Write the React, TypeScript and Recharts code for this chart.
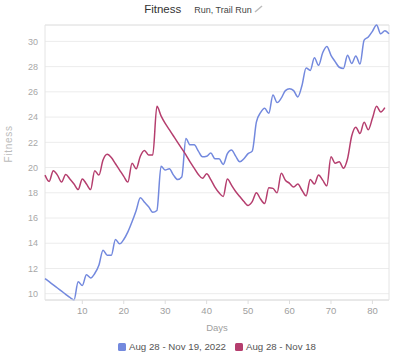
import { CartesianGrid, Line, LineChart, ReferenceArea, XAxis, YAxis } from "recharts";

const days = Array.from({ length: 84 }, (_, i) => i + 1);

const currentFitness = [
  11.2, 10.95, 10.7, 10.45, 10.2, 9.95, 9.7, 9.5, 10.95, 10.65,
  11.5, 11.25, 11.6, 12.25, 13.45, 13.05, 13.05, 14.3, 13.95, 14.3,
  14.9, 15.7, 16.6, 17.6, 17.25, 16.9, 16.45, 16.6, 20.1, 19.8,
  19.9, 19.4, 19.05, 19.25, 22.3, 21.8, 21.8, 21.3, 20.85, 20.9,
  21.15, 20.7, 20.7, 20.25, 21.1, 21.4, 20.9, 20.45, 20.7, 21.1,
  21.3, 23.6, 24.35, 24.7, 24.3, 25.75, 25.15, 25.5, 26.1, 26.25,
  26.1, 25.6, 26.5, 27.9, 27.7, 28.7, 28.1, 29.1, 29.6, 28.9,
  28.4, 27.95, 27.85, 28.9, 28.25, 28.85, 28.2, 30.1, 30.35, 30.8,
  31.3, 30.6, 30.85, 30.6,
];

const previousFitness = [
  19.4, 18.9, 19.75, 19.4, 18.85, 19.45, 19.1, 18.7, 18.25, 19.1,
  18.7, 18.25, 19.75, 19.4, 20.6, 21.05, 20.8, 20.3, 19.8, 19.3,
  18.85, 20.35, 19.9, 20.9, 21.35, 21.0, 21.0, 24.85, 24.1, 23.5,
  23.0, 22.5, 22.0, 21.5, 21.0, 20.45, 19.95, 19.45, 19.15, 19.5,
  19.05, 18.45, 18.0, 17.7, 19.1, 18.6, 18.1, 17.7, 17.3, 17.0,
  17.3, 18.0, 17.5, 17.15, 18.4, 18.35, 18.0, 19.55, 19.0, 18.75,
  18.45, 18.7, 18.2, 17.75, 19.05, 18.7, 19.4, 19.0, 18.55, 20.85,
  20.35, 20.45, 19.95, 20.7, 22.5, 23.2, 22.7, 23.6, 23.0, 23.9,
  24.85, 24.4, 24.75,
];

const yTicks = [10, 12, 14, 16, 18, 20, 22, 24, 26, 28, 30];
const xTicks = [10, 20, 30, 40, 50, 60, 70, 80];

const seriesNames = ["Aug 28 - Nov 19, 2022", "Aug 28 - Nov 18"];
const seriesColors = ["#7389de", "#b53e6e"];

const data = days.map((day, i) => ({
  day,
  current: currentFitness[i],
  previous: previousFitness[i],
}));

const font = "'Liberation Sans', Arial, sans-serif";

export default function App() {
  return (
    <div style={{ position: "absolute", left: 0, top: 0, width: 408, height: 362, fontFamily: font, background: "#fff" }}>
      <div style={{ position: "absolute", top: 3, left: 0, width: 408, display: "flex", justifyContent: "center", alignItems: "baseline" }}>
        <span style={{ fontSize: 11.5, color: "#333" }}>Fitness</span>
        <span style={{ fontSize: 9, color: "#444", marginLeft: 13 }}>Run, Trail Run</span>
        <svg width="10" height="8" style={{ marginLeft: 2 }}>
          <line x1="1" y1="7" x2="8" y2="1" stroke="#bbb" strokeWidth="1.5" />
        </svg>
      </div>
      <LineChart width={408} height={362} data={data} margin={{ top: 25, right: 19, left: 0, bottom: 28 }}>
        <CartesianGrid stroke="#ececec" vertical={false} />
        <ReferenceArea x1={1} x2={84} fill="none" stroke="#e4e4e4" />
        <XAxis
          type="number"
          dataKey="day"
          domain={[1, 84]}
          ticks={xTicks}
          height={34}
          tickSize={4}
          tickMargin={3}
          axisLine={{ stroke: "#e4e4e4" }}
          tickLine={{ stroke: "#dddddd" }}
          tick={{ fill: "#a0a0a0", fontSize: 9.5, fontFamily: font }}
          label={{ value: "Days", position: "insideBottom", offset: 3, fill: "#a0a0a0", fontSize: 9.5, fontFamily: font }}
        />
        <YAxis
          type="number"
          domain={["dataMin", "dataMax"]}
          ticks={yTicks}
          width={45}
          tickSize={4}
          tickMargin={3}
          axisLine={false}
          tickLine={false}
          tick={{ fill: "#a8a8a8", fontSize: 9, fontFamily: font }}
          label={{ value: "Fitness", angle: -90, position: "insideLeft", offset: 8, fill: "#bbbbbb", fontSize: 10, fontFamily: font, letterSpacing: 0.7 }}
        />
        <Line type="monotone" dataKey="current" name={seriesNames[0]} stroke={seriesColors[0]} strokeWidth={1.5} dot={false} isAnimationActive={false} />
        <Line type="monotone" dataKey="previous" name={seriesNames[1]} stroke={seriesColors[1]} strokeWidth={1.5} dot={false} isAnimationActive={false} />
      </LineChart>
      <div style={{ position: "absolute", left: 45, width: 344, top: 341, display: "flex", justifyContent: "center", alignItems: "center", fontSize: 9.7, color: "#555" }}>
        {seriesNames.map((name, i) => (
          <span key={name} style={{ display: "flex", alignItems: "center", marginLeft: i ? 9 : 0 }}>
            <span style={{ width: 8, height: 8, borderRadius: 1.5, background: seriesColors[i], marginRight: 3 }} />
            {name}
          </span>
        ))}
      </div>
    </div>
  );
}
